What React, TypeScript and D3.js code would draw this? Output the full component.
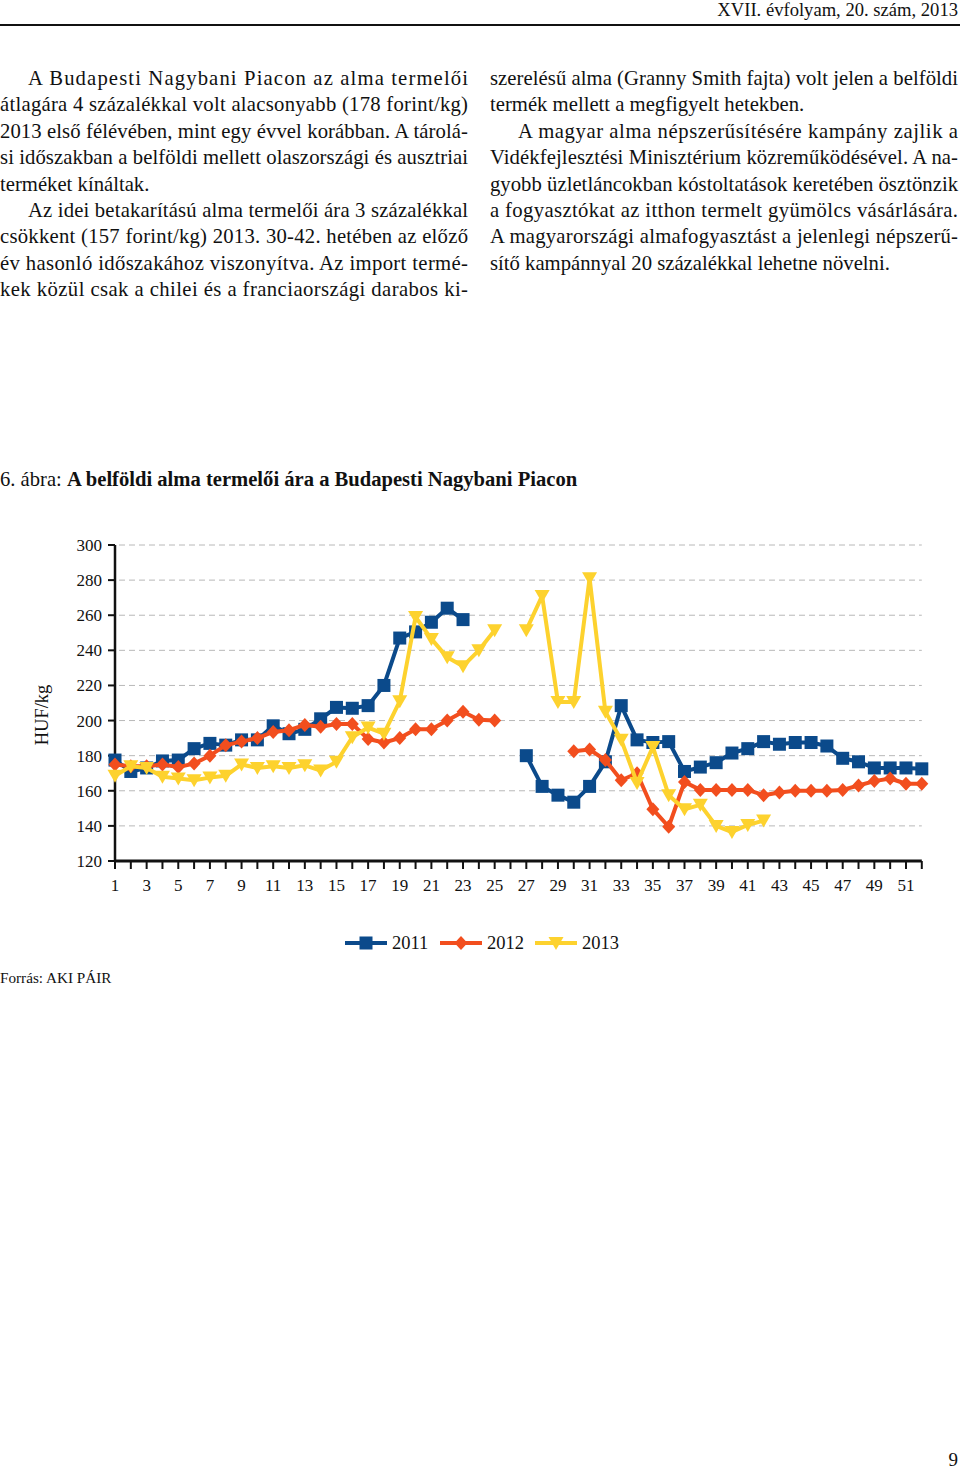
import React from "react";
import * as d3 from "d3";

const weeks: number[] = d3.range(1, 53);
const xTickLabels: number[] = d3.range(1, 53, 2);
const yTicks: number[] = [120, 140, 160, 180, 200, 220, 240, 260, 280, 300];

const s2011: (number | null)[] = [
  177.5, 171, 173, 177, 177.5, 184, 187, 186, 189, 189, 197, 192.5, 195, 201, 207.5, 207, 208.5, 220, 247, 250.5,
  256, 264, 257.5, null, null, null, 180, 162.5, 157.5, 153.5, 162.5, 176.5, 208.5, 189, 187.5, 188, 171, 173.5, 176, 181.5,
  184, 188, 186.5, 187.5, 187.5, 185.5, 178.5, 176.5, 173, 173, 173, 172.5,
];
const s2012: (number | null)[] = [
  175, 174, 174, 175, 173.5, 175.5, 180, 186, 188, 190, 193.5, 194.5, 197.5, 196.5, 198, 198, 189.5, 187.5, 190, 195,
  195, 200, 205, 200.5, 200, null, null, null, null, 182.5, 183.5, 177.5, 166, 170, 149.5, 139.5, 165, 160.5, 160.5, 160.5,
  160.5, 157.5, 159, 160, 160, 160, 160.5, 163, 165.5, 167, 164, 164,
];
const s2013: (number | null)[] = [
  168.5, 174, 173, 168, 167, 166, 167.5, 168.5, 175, 173, 174, 173, 174.5, 171.5, 176.5, 190.5, 196, 192.5, 211, 259,
  246.5, 236, 231, 240, 251.5, null, 251.5, 271, 210.5, 210.5, 281, 205, 189, 164.5, 185, 157.5, 149.5, 152, 140, 136.5,
  140.5, 143, null, null, null, null, null, null, null, null, null, null,
];

const seriesNames: string[] = ["2011", "2012", "2013"];
const seriesColors: string[] = ["#0B4A8B", "#F24E1E", "#FDD22E"];
const seriesMarkers: string[] = ["square", "diamond", "triangle"];

const leftLines: { t: string; indent: boolean; justify: boolean }[] = [
  { t: "A Budapesti Nagybani Piacon az alma termelői", indent: true, justify: true },
  { t: "átlagára 4 százalékkal volt alacsonyabb (178 forint/kg)", indent: false, justify: true },
  { t: "2013 első félévében, mint egy évvel korábban. A tárolá-", indent: false, justify: true },
  { t: "si időszakban a belföldi mellett olaszországi és ausztriai", indent: false, justify: true },
  { t: "terméket kínáltak.", indent: false, justify: false },
  { t: "Az idei betakarítású alma termelői ára 3 százalékkal", indent: true, justify: true },
  { t: "csökkent (157 forint/kg) 2013. 30-42. hetében az előző", indent: false, justify: true },
  { t: "év hasonló időszakához viszonyítva. Az import termé-", indent: false, justify: true },
  { t: "kek közül csak a chilei és a franciaországi darabos ki-", indent: false, justify: true },
];
const rightLines: { t: string; indent: boolean; justify: boolean }[] = [
  { t: "szerelésű alma (Granny Smith fajta) volt jelen a belföldi", indent: false, justify: true },
  { t: "termék mellett a megfigyelt hetekben.", indent: false, justify: false },
  { t: "A magyar alma népszerűsítésére kampány zajlik a", indent: true, justify: true },
  { t: "Vidékfejlesztési Minisztérium közreműködésével. A na-", indent: false, justify: true },
  { t: "gyobb üzletláncokban kóstoltatások keretében ösztönzik", indent: false, justify: true },
  { t: "a fogyasztókat az itthon termelt gyümölcs vásárlására.", indent: false, justify: true },
  { t: "A magyarországi almafogyasztást a jelenlegi népszerű-", indent: false, justify: true },
  { t: "sítő kampánnyal 20 százalékkal lehetne növelni.", indent: false, justify: false },
];

const FONT = "'Liberation Serif', 'Times New Roman', serif";

function Marker({ type, x, y, color }: { type: string; x: number; y: number; color: string }) {
  if (type === "square") {
    return <rect x={x - 6.5} y={y - 6.5} width={13} height={13} fill={color} />;
  }
  if (type === "diamond") {
    return <path d={`M${x},${y - 7} L${x + 6.5},${y} L${x},${y + 7} L${x - 6.5},${y} Z`} fill={color} />;
  }
  return <path d={`M${x - 7.5},${y - 6} L${x + 7.5},${y - 6} L${x},${y + 7} Z`} fill={color} />;
}

function TextBlock({ lines, x0, x1 }: { lines: { t: string; indent: boolean; justify: boolean }[]; x0: number; x1: number }) {
  return (
    <g>
      {lines.map((l, i) => {
        const xs = x0 + (l.indent ? 28 : 0);
        const props: any = {};
        if (l.justify) {
          props.textLength = x1 - xs;
          props.lengthAdjust = "spacing";
        }
        return (
          <text key={i} x={xs} y={85 + i * 26.4} fontSize={20.7} fontFamily={FONT} fill="#111" {...props}>
            {l.t}
          </text>
        );
      })}
    </g>
  );
}

export default function App() {
  const x = d3.scaleLinear().domain([1, 52]).range([115, 921.8]);
  const y = d3.scaleLinear().domain([120, 300]).range([861, 545]);
  const allSeries = [s2011, s2012, s2013];
  const line = d3
    .line<number | null>()
    .defined((d) => d != null)
    .x((_, i) => x(weeks[i]))
    .y((d) => y(d as number));

  return (
    <svg
      width={960}
      height={1469}
      style={{ position: "absolute", left: 0, top: 0, display: "block", background: "#fff" }}
    >
      {/* header */}
      <text x={958} y={16} textAnchor="end" fontSize={18.6} fontFamily={FONT} fill="#111">
        XVII. évfolyam, 20. szám, 2013
      </text>
      <line x1={0} x2={960} y1={25} y2={25} stroke="#111" strokeWidth={2} />

      <TextBlock lines={leftLines} x0={0} x1={468} />
      <TextBlock lines={rightLines} x0={490} x1={958} />

      {/* title */}
      <text x={0} y={486} fontSize={20.6} fontFamily={FONT} fill="#111">
        6. ábra: <tspan fontWeight="bold">A belföldi alma termelői ára a Budapesti Nagybani Piacon</tspan>
      </text>

      {/* gridlines */}
      {yTicks
        .filter((t) => t > 120)
        .map((t) => (
          <line key={t} x1={x(1) + 4} x2={x(52)} y1={y(t)} y2={y(t)} stroke="#b8b8b8" strokeWidth={1} strokeDasharray="6,4" />
        ))}

      {/* y axis */}
      <line x1={x(1)} x2={x(1)} y1={y(300)} y2={y(120)} stroke="#111" strokeWidth={2.5} />
      {yTicks.map((t) => (
        <g key={t}>
          <line x1={x(1) - 7} x2={x(1)} y1={y(t)} y2={y(t)} stroke="#111" strokeWidth={2} />
          <text x={102} y={y(t) + 6} textAnchor="end" fontSize={17} fontFamily={FONT} fill="#111">
            {t}
          </text>
        </g>
      ))}
      <text
        transform={`translate(48,715) rotate(-90)`}
        textAnchor="middle"
        fontSize={18.5}
        fontFamily={FONT}
        fill="#111"
      >
        HUF/kg
      </text>

      {/* x axis */}
      <line x1={x(1)} x2={x(52)} y1={y(120)} y2={y(120)} stroke="#111" strokeWidth={3} />
      {weeks.map((w) => (
        <line key={w} x1={x(w)} x2={x(w)} y1={y(120)} y2={y(120) + 8} stroke="#111" strokeWidth={2} />
      ))}
      {xTickLabels.map((w) => (
        <text key={w} x={x(w)} y={891} textAnchor="middle" fontSize={17} fontFamily={FONT} fill="#111">
          {w}
        </text>
      ))}

      {/* series */}
      {allSeries.map((s, si) => (
        <g key={si}>
          <path d={line(s) || ""} fill="none" stroke={seriesColors[si]} strokeWidth={4} strokeLinejoin="round" />
          {s.map((v, i) =>
            v == null ? null : <Marker key={i} type={seriesMarkers[si]} x={x(weeks[i])} y={y(v)} color={seriesColors[si]} />
          )}
        </g>
      ))}

      {/* legend */}
      {seriesNames.map((n, i) => {
        const lx = 345 + i * 95;
        return (
          <g key={n}>
            <line x1={lx} x2={lx + 42} y1={943} y2={943} stroke={seriesColors[i]} strokeWidth={4} />
            <Marker type={seriesMarkers[i]} x={lx + 21} y={943} color={seriesColors[i]} />
            <text x={lx + 47} y={949} fontSize={18.5} fontFamily={FONT} fill="#111">
              {n}
            </text>
          </g>
        );
      })}

      <text x={0} y={983} fontSize={15.2} fontFamily={FONT} fill="#111">
        Forrás: AKI PÁIR
      </text>

      <text x={958} y={1466} textAnchor="end" fontSize={19} fontFamily={FONT} fill="#111">
        9
      </text>
    </svg>
  );
}
